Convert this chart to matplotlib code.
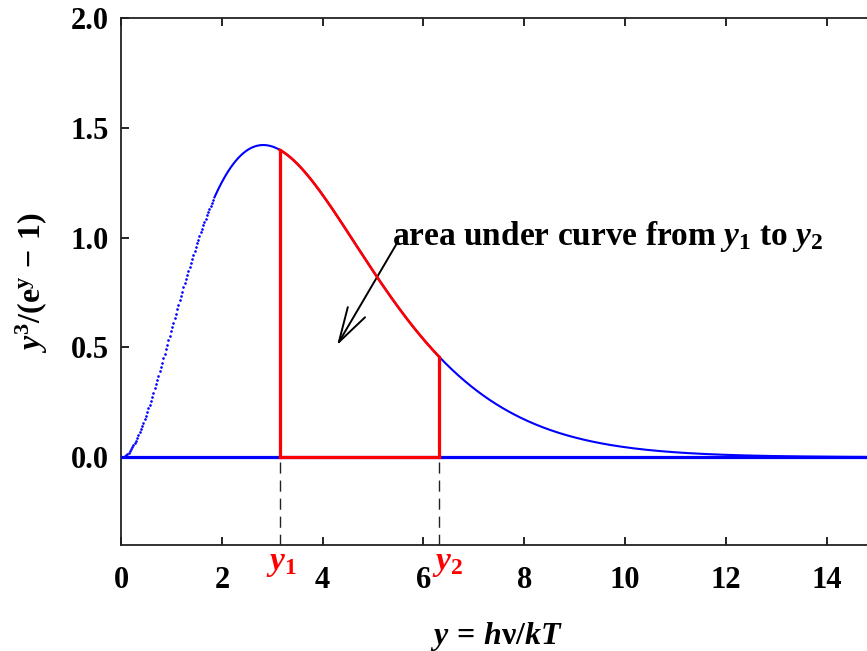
import numpy as np
import matplotlib
matplotlib.use('Agg')
import matplotlib.pyplot as plt
import matplotlib.transforms as mtransforms

# 字体设置: Times 风格粗体
plt.rcParams['font.family'] = ['Liberation Serif', 'DejaVu Serif']
plt.rcParams['font.weight'] = 'bold'
plt.rcParams['mathtext.fontset'] = 'custom'
plt.rcParams['mathtext.rm'] = 'Liberation Serif:bold'
plt.rcParams['mathtext.it'] = 'Liberation Serif:bold:italic'
plt.rcParams['mathtext.bf'] = 'Liberation Serif:bold'

# 数据: 积分上下限 与坐标范围
y1 = 3.15
y2 = 6.31
x_max = 14.8
x_dotted_end = 1.85   # 上升段显示为点状
n_samples = 600

x_ticks = [0, 2, 4, 6, 8, 10, 12, 14]
y_ticks = [0.0, 0.5, 1.0, 1.5, 2.0]


def planck(v):
    v = np.asarray(v, dtype=float)
    out = np.zeros_like(v)
    nz = v > 0
    out[nz] = v[nz]**3 / np.expm1(v[nz])
    return out


x = np.linspace(0, x_max, n_samples)
f = planck(x)
dotted = x <= x_dotted_end

xs = np.linspace(y1, y2, 200)
fs = planck(xs)
f_y1 = float(planck([y1])[0])
f_y2 = float(planck([y2])[0])

fig = plt.figure(figsize=(8.67, 6.51), dpi=100)
ax = fig.add_axes([0.1396, 0.1628, 0.8604, 0.8096])

blue = '#0000ff'
red = '#ff0000'

# 零线 + 曲线
ax.plot([0, x_max], [0, 0], color=blue, lw=2.3, zorder=2)
ax.plot(x[dotted], f[dotted], linestyle='none', marker='o', markersize=1.9,
        markeredgewidth=0, color=blue, zorder=3)
ax.plot(x[~dotted], f[~dotted], color=blue, lw=1.5, zorder=3)

# 红色区域边界
ax.plot(xs, fs, color=red, lw=1.9, zorder=4)
ax.plot([y1, y1], [0, f_y1], color=red, lw=2.3, zorder=4)
ax.plot([y2, y2], [0, f_y2], color=red, lw=2.3, zorder=4)
ax.plot([y1, y2], [0, 0], color=red, lw=2.3, zorder=4)

# 虚线到 x 轴
for xv in (y1, y2):
    ax.plot([xv, xv], [-0.02, -0.4], color='#222222', lw=1.0,
            dashes=(8, 5), zorder=1)

ax.set_xlim(0, x_max)
ax.set_ylim(-0.4, 2.0)
ax.set_xticks(x_ticks)
ax.set_yticks(y_ticks)
ax.set_xticklabels([str(t) for t in x_ticks])
ax.set_yticklabels(['%.1f' % t for t in y_ticks])
ax.tick_params(direction='in', length=5.5, width=1.2, labelsize=22,
               top=True, right=False, colors='black')
ax.tick_params(axis='x', pad=15)
ax.tick_params(axis='y', pad=9)
ax.spines['right'].set_visible(False)
for s in ('left', 'bottom', 'top'):
    ax.spines[s].set_linewidth(1.3)
    ax.spines[s].set_color('#222222')

# 轴标签
fig.text(0.5735, 0.023, r'$y\,=\,h\mathrm{\nu}/kT$', fontsize=23,
         ha='center', va='center')
fig.text(0.037, 0.565, r'$y^{3}/(\mathrm{e}^{\mathrm{y}}\,-\,1)$', fontsize=23,
         ha='center', va='center', rotation=90)

# y1, y2 标注
trans = mtransforms.blended_transform_factory(ax.transData, ax.transAxes)
ax.text(y1 + 0.04, -0.005, r'$y_{1}$', color=red, fontsize=24,
        ha='center', va='top', transform=trans, clip_on=False)
ax.text(y2 + 0.16, -0.005, r'$y_{2}$', color=red, fontsize=24,
        ha='center', va='top', transform=trans, clip_on=False)

# 箭头与说明
ax.annotate('', xy=(4.286, 0.51), xytext=(5.476, 0.975),
            arrowprops=dict(arrowstyle='->,head_length=2.5,head_width=0.72',
                            color='black', lw=1.4, shrinkA=0, shrinkB=0))
ax.text(5.38, 0.966, r'area under curve from $y_{1}$ to $y_{2}$',
        fontsize=24, ha='left', va='baseline')

fig.savefig('out.png', dpi=100)
